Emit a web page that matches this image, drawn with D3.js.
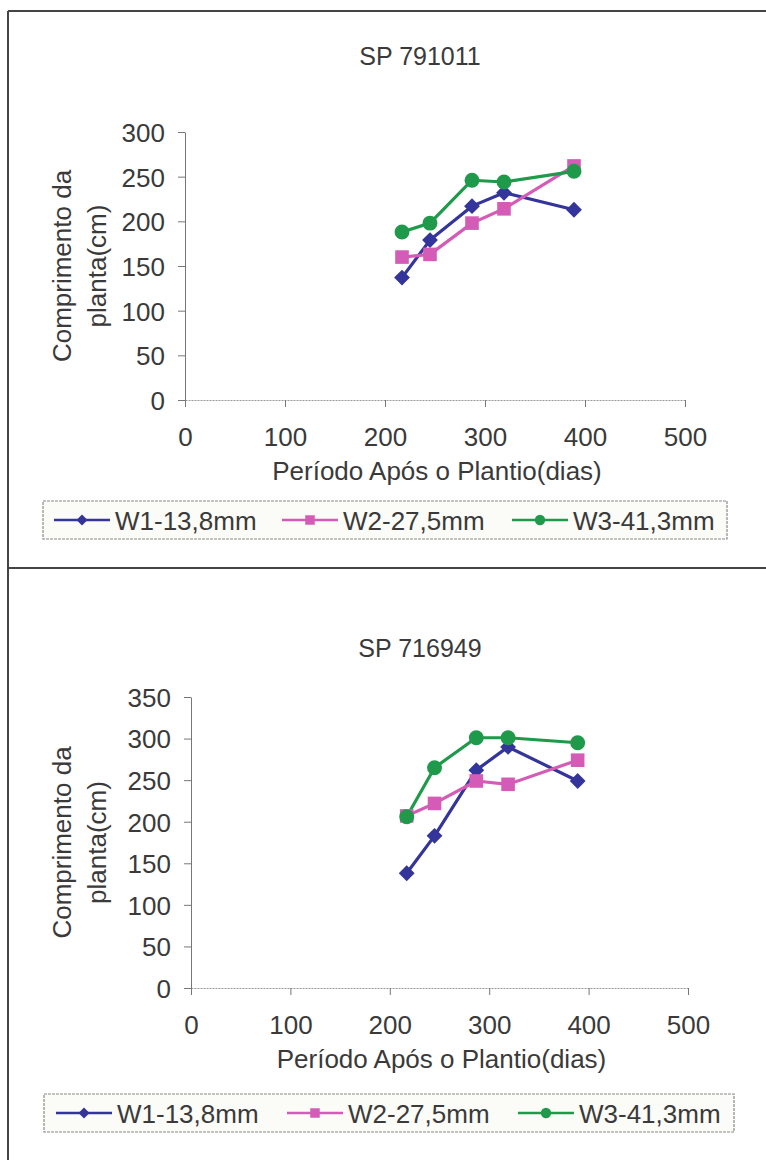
<!DOCTYPE html>
<html>
<head>
<meta charset="utf-8">
<script src="https://cdn.jsdelivr.net/npm/d3@7"></script>
<style>
  html, body { margin: 0; padding: 0; background: #fff; }
  svg { display: block; }
  text { font-family: "Liberation Sans", Arial, sans-serif; fill: #3a3a3a; }
</style>
</head>
<body>
<svg id="chart" width="766" height="1160"></svg>
<script>
// ---- data ----
const days = [217, 245, 287, 319, 389];
const seriesNames = ["W1-13,8mm", "W2-27,5mm", "W3-41,3mm"];
const seriesColors = ["#33359b", "#d45cb6", "#1f9a4b"];
const seriesShapes = ["diamond", "square", "circle"];

const sp791011_W1 = [137, 179, 217, 232, 213];
const sp791011_W2 = [160, 163, 198, 214, 262];
const sp791011_W3 = [188, 198, 246, 244, 256];

const sp716949_W1 = [138, 183, 262, 290, 249];
const sp716949_W2 = [207, 222, 249, 245, 274];
const sp716949_W3 = [206, 265, 301, 301, 295];

const xTicks = [0, 100, 200, 300, 400, 500];
const yTicksTop = [0, 50, 100, 150, 200, 250, 300];
const yTicksBottom = [0, 50, 100, 150, 200, 250, 300, 350];

const yLabelLines = ["Comprimento da", "planta(cm)"];
const xLabel = "Período Após o Plantio(dias)";

const svg = d3.select("#chart");

// frame
svg.append("line").attr("x1", 8).attr("x2", 8).attr("y1", 11).attr("y2", 1160)
  .attr("stroke", "#444").attr("stroke-width", 2);
svg.append("line").attr("x1", 8).attr("x2", 766).attr("y1", 11).attr("y2", 11)
  .attr("stroke", "#444").attr("stroke-width", 2);
svg.append("line").attr("x1", 8).attr("x2", 766).attr("y1", 568).attr("y2", 568)
  .attr("stroke", "#444").attr("stroke-width", 2);

function marker(shape, size) {
  if (shape === "circle") return d3.symbol().type(d3.symbolCircle).size(size)();
  return d3.symbol().type(d3.symbolSquare).size(size)();
}

function drawPanel(cfg) {
  const g = svg.append("g");
  const x = d3.scaleLinear().domain([0, 500]).range([cfg.x0, cfg.x1]);
  const y = d3.scaleLinear().domain([0, cfg.yMax]).range([cfg.y0, cfg.y1]);

  // title
  g.append("text").attr("x", cfg.titleX).attr("y", cfg.titleY)
    .attr("text-anchor", "middle").style("font-size", "25px").text(cfg.title);

  // y axis
  const ya = g.append("g").attr("transform", `translate(${cfg.x0},0)`)
    .call(d3.axisLeft(y).tickValues(cfg.yTicks).tickSize(7).tickPadding(13).tickSizeOuter(0));
  ya.select(".domain").attr("stroke", "#777");
  ya.selectAll(".tick line").attr("stroke", "#777");
  ya.selectAll(".tick text").style("font-size", "26px").style("font-family", "Liberation Sans, Arial, sans-serif")
    .attr("fill", "#3a3a3a").attr("dy", "0.36em");

  // x axis
  const xa = g.append("g").attr("transform", `translate(0,${cfg.y0})`)
    .call(d3.axisBottom(x).tickValues(xTicks).tickSize(7).tickPadding(21).tickSizeOuter(0));
  xa.select(".domain").attr("stroke", "#999").attr("stroke-dasharray", "2,1");
  xa.selectAll(".tick line").attr("stroke", "#777");
  xa.selectAll(".tick text").style("font-size", "26px").style("font-family", "Liberation Sans, Arial, sans-serif")
    .attr("fill", "#3a3a3a");

  // x label
  g.append("text").attr("x", (cfg.x0 + cfg.x1) / 2 + 2).attr("y", cfg.y0 + 80)
    .attr("text-anchor", "middle").style("font-size", "26px").text(xLabel);

  // y label
  const yc = (cfg.y0 + cfg.y1) / 2;
  yLabelLines.forEach((t, i) => {
    g.append("text")
      .attr("transform", `translate(${cfg.ylx[i]},${yc}) rotate(-90)`)
      .attr("text-anchor", "middle").style("font-size", "26px").text(t);
  });

  // series
  const line = d3.line().x((d, i) => x(days[i])).y(d => y(d));
  cfg.series.forEach((vals, s) => {
    g.append("path").datum(vals).attr("d", line)
      .attr("fill", "none").attr("stroke", seriesColors[s]).attr("stroke-width", 3.2)
      .attr("stroke-linejoin", "round");
  });
  cfg.series.forEach((vals, s) => {
    const shape = seriesShapes[s];
    const size = shape === "diamond" ? 125 : shape === "square" ? 185 : 175;
    g.selectAll(null).data(vals).enter().append("path")
      .attr("d", marker(shape, size))
      .attr("transform", (d, i) => `translate(${x(days[i])},${y(d)})` + (shape === "diamond" ? " rotate(45)" : ""))
      .attr("fill", seriesColors[s]);
  });

  // legend
  const lg = g.append("g");
  lg.append("rect").attr("x", cfg.leg.x).attr("y", cfg.leg.y)
    .attr("width", cfg.leg.w).attr("height", 38)
    .attr("fill", "#fbfbf7").attr("stroke", "#8a8a8a").attr("stroke-width", 1.2)
    .attr("stroke-dasharray", "3,1");
  const cy = cfg.leg.y + 19;
  seriesNames.forEach((name, s) => {
    const lx = cfg.leg.items[s];
    lg.append("line").attr("x1", lx).attr("x2", lx + 56).attr("y1", cy).attr("y2", cy)
      .attr("stroke", seriesColors[s]).attr("stroke-width", 2.5);
    const shape = seriesShapes[s];
    const size = shape === "diamond" ? 60 : shape === "square" ? 90 : 85;
    lg.append("path").attr("d", marker(shape, size))
      .attr("transform", `translate(${lx + 28},${cy})` + (shape === "diamond" ? " rotate(45)" : ""))
      .attr("fill", seriesColors[s]);
    lg.append("text").attr("x", lx + 61).attr("y", cy + 9.5)
      .style("font-size", "26px").text(name);
  });
}

drawPanel({
  title: "SP 791011", titleX: 420, titleY: 65,
  x0: 185, x1: 685, y0: 400, y1: 132, yMax: 300, yTicks: yTicksTop,
  ylx: [71, 106],
  series: [sp791011_W1, sp791011_W2, sp791011_W3],
  leg: { x: 43, y: 501, w: 684, items: [54, 282, 512] }
});

drawPanel({
  title: "SP 716949", titleX: 420, titleY: 657,
  x0: 191, x1: 688, y0: 988, y1: 697, yMax: 350, yTicks: yTicksBottom,
  ylx: [71, 106],
  series: [sp716949_W1, sp716949_W2, sp716949_W3],
  leg: { x: 44, y: 1094, w: 690, items: [56, 287, 518] }
});
</script>
</body>
</html>
